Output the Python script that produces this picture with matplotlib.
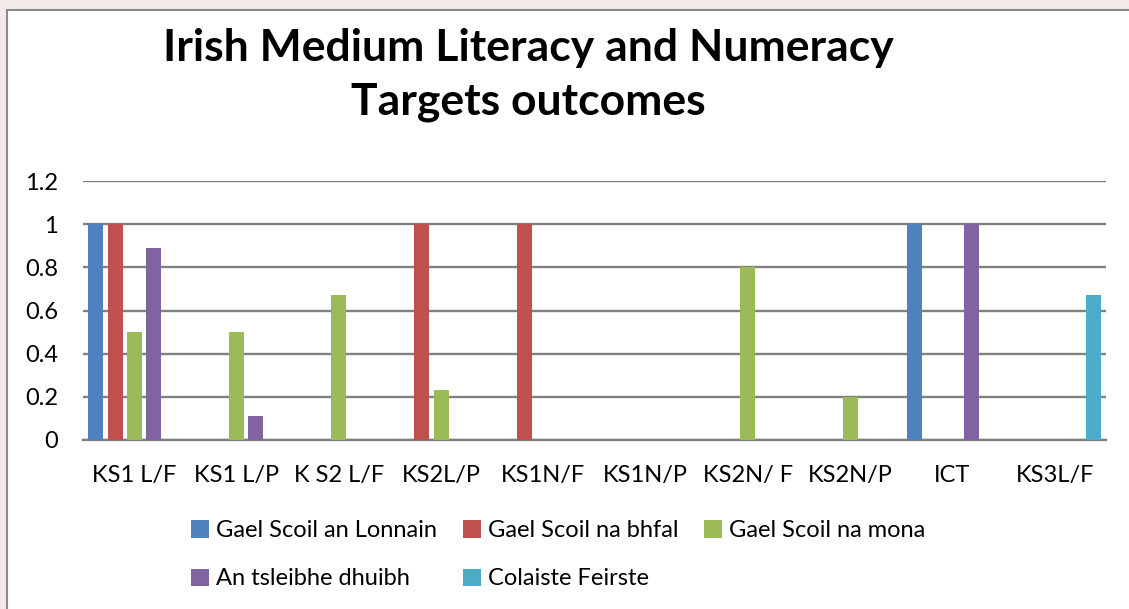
import matplotlib
matplotlib.use("Agg")
import matplotlib.pyplot as plt
import numpy as np
from matplotlib.patches import Rectangle

categories = ["KS1 L/F", "KS1 L/P", "K S2 L/F", "KS2L/P", "KS1N/F",
              "KS1N/P", "KS2N/ F", "KS2N/P", "ICT", "KS3L/F"]
series_names = ["Gael Scoil an Lonnain", "Gael Scoil na bhfal", "Gael Scoil na mona",
                "An tsleibhe dhuibh", "Colaiste Feirste"]
lonnain = [1, 0, 0, 0, 0, 0, 0, 0, 1, 0]
bhfal = [1, 0, 0, 1, 1, 0, 0, 0, 0, 0]
mona = [0.5, 0.5, 0.67, 0.23, 0, 0, 0.8, 0.2, 0, 0]
tsleibhe = [0.89, 0.11, 0, 0, 0, 0, 0, 0, 1, 0]
feirste = [0, 0, 0, 0, 0, 0, 0, 0, 0, 0.67]
yticks = [0, 0.2, 0.4, 0.6, 0.8, 1, 1.2]
ytick_labels = ["0", "0.2", "0.4", "0.6", "0.8", "1", "1.2"]
colors = ["#4F81BD", "#C0504D", "#9BBB59", "#8064A2", "#4BACC6"]

plt.rcParams['font.family'] = ['Lato', 'DejaVu Sans']

W, H = 1129, 609
fig = plt.figure(figsize=(W / 100, H / 100), dpi=100)
fig.patch.set_facecolor("#f3eaea")
# white chart frame
fig.patches.append(Rectangle((7 / W, -0.1), 1.2, 1 - 10 / H + 0.1, transform=fig.transFigure,
                             facecolor="white", edgecolor="#8c8c8c", linewidth=1.5, zorder=-5))

ax = fig.add_axes([83 / W, 1 - 440 / H, (1106 - 83) / W, (440 - 181) / H])
ax.set_facecolor("none")
ax.set_zorder(2)

x = np.arange(len(categories))
pitch = 0.187
bw = 0.147
data = [lonnain, bhfal, mona, tsleibhe, feirste]
handles = []
for j, (vals, name, c) in enumerate(zip(data, series_names, colors)):
    h = ax.bar(x + (j - 2) * pitch, vals, width=bw, color=c, label=name, zorder=3)
    handles.append(h)

ax.set_xlim(-0.5, len(categories) - 0.5)
ax.set_ylim(0, 1.2)
ax.set_yticks(yticks)
ax.set_yticklabels(ytick_labels)
ax.set_xticks(x)
ax.set_xticklabels(categories)
ax.yaxis.grid(True, color="#808080", linewidth=1.7, zorder=1)
ax.set_axisbelow(True)
for s in ["top", "right", "left"]:
    ax.spines[s].set_visible(False)
ax.spines["bottom"].set_color("#808080")
ax.spines["bottom"].set_linewidth(1.7)
ax.tick_params(axis="both", length=0, labelsize=17)
ax.tick_params(axis="x", pad=18)
ax.tick_params(axis="y", pad=18)

fig.text(528 / W, 1 - 75 / H, "Irish Medium Literacy and Numeracy\nTargets outcomes",
         ha="center", va="center", fontsize=32, fontweight="bold", linespacing=1.4)

order = [0, 3, 1, 4, 2]
leg = fig.legend([handles[i] for i in order], [series_names[i] for i in order],
                 loc="upper left", bbox_to_anchor=(170 / W, 1 - 499 / H), ncol=3,
                 frameon=False, fontsize=17, handlelength=0.75, handleheight=0.75,
                 handletextpad=0.3, columnspacing=1.1, labelspacing=1.15)

fig.savefig("out.png", dpi=100, facecolor=fig.get_facecolor())
